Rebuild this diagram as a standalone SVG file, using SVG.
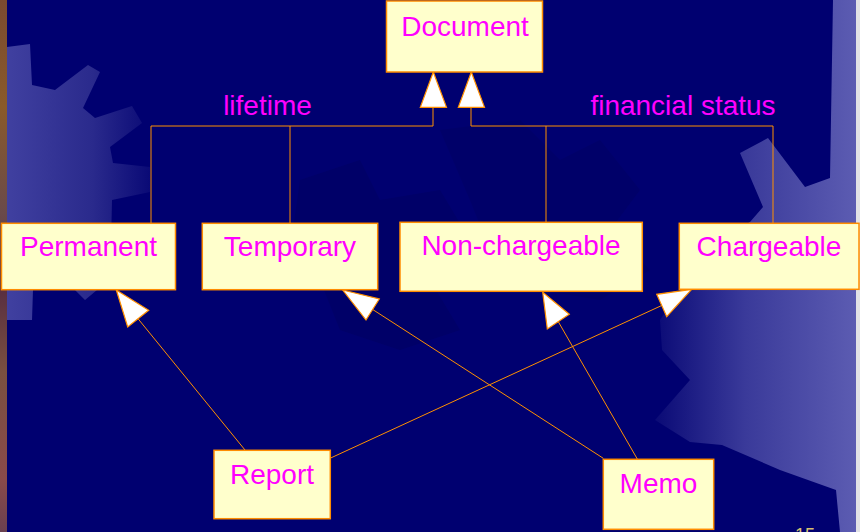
<svg xmlns="http://www.w3.org/2000/svg" width="860" height="532" viewBox="0 0 860 532">
<defs>
<linearGradient id="gl" x1="0" y1="0" x2="1" y2="0">
<stop offset="0" stop-color="#4040a0"/><stop offset="0.6" stop-color="#2a2a8c"/><stop offset="1" stop-color="#0a0a76"/>
</linearGradient>
<linearGradient id="gr" x1="0" y1="0" x2="1" y2="0">
<stop offset="0" stop-color="#0a0a76"/><stop offset="0.45" stop-color="#3a3a9a"/><stop offset="1" stop-color="#5c5cb2"/>
</linearGradient>
<linearGradient id="strip" x1="0" y1="0" x2="0" y2="1">
<stop offset="0" stop-color="#7a4a30"/><stop offset="0.2" stop-color="#8a5a2a"/><stop offset="0.4" stop-color="#6a4a4a"/><stop offset="0.55" stop-color="#5a3040"/><stop offset="0.7" stop-color="#7a5040"/><stop offset="0.9" stop-color="#8a4a4a"/><stop offset="1" stop-color="#6a4050"/>
</linearGradient>
<style>
.box{fill:#ffffcc;stroke:#ff8c00;stroke-width:1.5}
.lbl{font-family:"Liberation Sans",Arial,sans-serif;font-size:28px;fill:#ff00ff;text-anchor:middle}
.ln{fill:none;stroke:#ff9000;stroke-width:1}
.ah{fill:#ffffff;stroke:#ff9000;stroke-width:1.2;stroke-linejoin:miter}
</style>
</defs>
<g id="background">
<rect x="0" y="0" width="860" height="532" fill="#000070"/>
<polygon fill="#000068" points="300,180 360,160 380,200 440,190 470,240 430,280 460,330 400,350 340,330 320,280 290,250"/>
<polygon fill="#000069" points="440,130 520,120 560,160 600,140 640,190 610,230 650,270 600,300 540,290 490,250 470,200"/>
<polygon fill="url(#gl)" points="7,47 30,44 32,85 55,90 88,65 100,72 83,108 95,118 132,106 142,123 110,147 113,163 150,167 150,192 112,200 110,290 97,290 85,300 75,290 33,290 32,320 7,320"/>
<polygon fill="url(#gr)" points="740,153 768,138 805,187 830,178 833,0 856,0 856,532 840,532 836,490 780,470 722,445 690,442 655,420 690,380 662,350 660,320 680,290 700,250 750,222 763,207"/>
<rect x="0" y="0" width="7" height="532" fill="url(#strip)"/>
<rect x="856" y="0" width="4" height="532" fill="#e2e2e6"/>
<text x="805" y="541" font-family="'Liberation Sans',Arial,sans-serif" font-size="18" fill="#d8c070" text-anchor="middle">15</text>
</g>
<g id="connectors">
<polyline class="ln" points="433,107 433,126 151,126 151,223"/>
<line class="ln" x1="290" y1="126" x2="290" y2="223"/>
<polyline class="ln" points="471,107 471,126 773,126 773,223"/>
<line class="ln" x1="546" y1="126" x2="546" y2="222"/>
<line class="ln" x1="138" y1="318.7" x2="245" y2="450"/>
<line class="ln" x1="330" y1="458.3" x2="661.7" y2="305.5"/>
<line class="ln" x1="372.7" y1="309.5" x2="603.3" y2="458.3"/>
<line class="ln" x1="558.3" y1="321.7" x2="637.3" y2="459"/>
<polygon class="ah" points="433.3,72 446.5,107.3 420.3,107.3"/>
<polygon class="ah" points="471.3,72 484.5,107.3 458.3,107.3"/>
<polygon class="ah" points="116.3,290 148.7,310.3 127.7,327"/>
<polygon class="ah" points="691.7,289.3 656.7,294.3 666.7,316.7"/>
<polygon class="ah" points="342.7,290 379.3,299 366,320"/>
<polygon class="ah" points="542.7,292.3 569.3,314.3 547.3,329"/>
</g>
<g id="document"><rect class="box" x="386.5" y="1" width="156" height="71"/><text class="lbl" x="465" y="36">Document</text></g>
<g id="label-lifetime"><text class="lbl" x="267.5" y="115">lifetime</text></g>
<g id="label-financial"><text class="lbl" x="683" y="115">financial status</text></g>
<g id="permanent"><rect class="box" x="1.5" y="223.3" width="174" height="66.4"/><text class="lbl" x="88.5" y="256">Permanent</text></g>
<g id="temporary"><rect class="box" x="202.3" y="223.3" width="175.4" height="66.4"/><text class="lbl" x="290" y="256">Temporary</text></g>
<g id="nonchargeable"><rect class="box" x="400" y="222.3" width="242.3" height="69"/><text class="lbl" x="521" y="255">Non-chargeable</text></g>
<g id="chargeable"><rect class="box" x="679.3" y="223.3" width="179.7" height="66"/><text class="lbl" x="769" y="256">Chargeable</text></g>
<g id="report"><rect class="box" x="214" y="450.3" width="116.3" height="68.4"/><text class="lbl" x="272" y="484">Report</text></g>
<g id="memo"><rect class="box" x="603.3" y="459.3" width="110.4" height="70"/><text class="lbl" x="658.5" y="493">Memo</text></g>
</svg>
